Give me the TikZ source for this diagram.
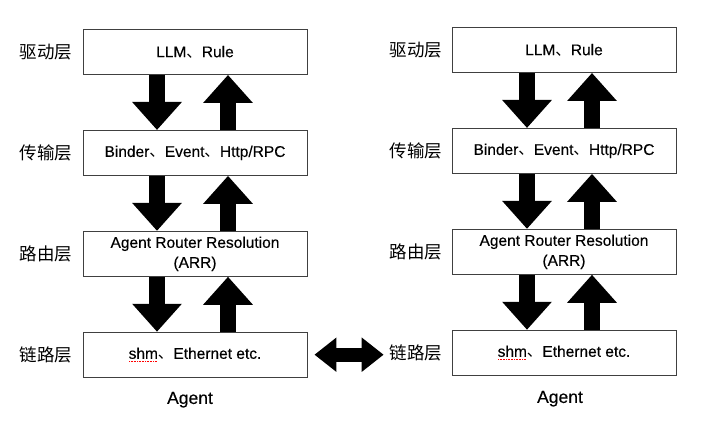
\documentclass[tikz,border=0pt]{standalone}
\usepackage{fontspec}
\setmainfont[FakeBold=0.3]{Liberation Sans}
\newfontfamily\cjk{Noto Sans CJK SC}
\usetikzlibrary{positioning}
\usetikzlibrary{arrows.meta}

\newcommand\dun{{\cjk 、}}
\newcommand\spellmark[1]{\setbox0\hbox{#1}\rlap{\color{red}\raisebox{-3pt}{\hbox to \wd0{\leaders\hbox to 1.6pt{\hss\rule{0.9pt}{0.8pt}\hss}\hfill}}}\box0}

\begin{document}
\begin{tikzpicture}[x=1pt, y=1pt, node distance = 55pt, auto]
% tikz settings
\tikzstyle{layer} = [rectangle, draw=black!75, line width=0.9pt,
    minimum width=224pt, minimum height=45pt, align=center, font=\fontsize{15.5}{20}\selectfont]
\tikzstyle{layername} = [inner sep=0pt, font=\cjk\fontsize{17.5}{20}\selectfont]
\tikzstyle{caption} = [inner sep=0pt, font=\fontsize{17.5}{20}\selectfont]
\tikzstyle{blockline} = [line width=16pt, -{Triangle[length=28pt,width=48pt]}]
\tikzstyle{both} = [line width=14pt, {Triangle[length=22pt,width=33pt]}-{Triangle[length=22pt,width=33pt]}]

\useasboundingbox (0,0) rectangle (705,-424);

% the tikz picture
% left agent
\node [layer] (driveL) at (195,-52) {LLM\dun Rule};
\node [layer, below=of driveL] (transL) {Binder\dun Event\dun Http/RPC};
\node [layer, below=of transL] (routeL) {Agent Router Resolution\\(ARR)};
\node [layer, below=of routeL] (linkL) {\spellmark{shm}\dun Ethernet etc.};
\node [layername, left=10pt of driveL] (driveLname) {驱动层};
\node [layername, left=10pt of transL] (transLname) {传输层};
\node [layername, left=10pt of routeL] (routeLname) {路由层};
\node [layername, left=10pt of linkL] (linkLname) {链路层};
\node [caption, below=14pt of linkL, xshift=-5pt] (agentL) {Agent};

\draw [blockline] ([xshift=-38pt]driveL.south) -- ([xshift=-38pt]transL.north);
\draw [blockline] ([xshift=33pt]transL.north) -- ([xshift=33pt]driveL.south);
\draw [blockline] ([xshift=-38pt]transL.south) -- ([xshift=-38pt]routeL.north);
\draw [blockline] ([xshift=33pt]routeL.north) -- ([xshift=33pt]transL.south);
\draw [blockline] ([xshift=-38pt]routeL.south) -- ([xshift=-38pt]linkL.north);
\draw [blockline] ([xshift=33pt]linkL.north) -- ([xshift=33pt]routeL.south);

% right agent
\node [layer] (driveR) at (564,-50) {LLM\dun Rule};
\node [layer, below=of driveR] (transR) {Binder\dun Event\dun Http/RPC};
\node [layer, below=of transR] (routeR) {Agent Router Resolution\\(ARR)};
\node [layer, below=of routeR] (linkR) {\spellmark{shm}\dun Ethernet etc.};
\node [layername, left=9pt of driveR] (driveRname) {驱动层};
\node [layername, left=9pt of transR] (transRname) {传输层};
\node [layername, left=9pt of routeR] (routeRname) {路由层};
\node [layername, left=9pt of linkR] (linkRname) {链路层};
\node [caption, below=15pt of linkR, xshift=-4pt] (agentR) {Agent};

\draw [blockline] ([xshift=-37pt]driveR.south) -- ([xshift=-37pt]transR.north);
\draw [blockline] ([xshift=28pt]transR.north) -- ([xshift=28pt]driveR.south);
\draw [blockline] ([xshift=-37pt]transR.south) -- ([xshift=-37pt]routeR.north);
\draw [blockline] ([xshift=28pt]routeR.north) -- ([xshift=28pt]transR.south);
\draw [blockline] ([xshift=-37pt]routeR.south) -- ([xshift=-37pt]linkR.north);
\draw [blockline] ([xshift=28pt]linkR.north) -- ([xshift=28pt]routeR.south);

% link between the two agents
\draw [both] ([xshift=7pt]linkL.east) -- ([xshift=-6pt]linkL.east -| linkRname.west);
\end{tikzpicture}
\end{document}
